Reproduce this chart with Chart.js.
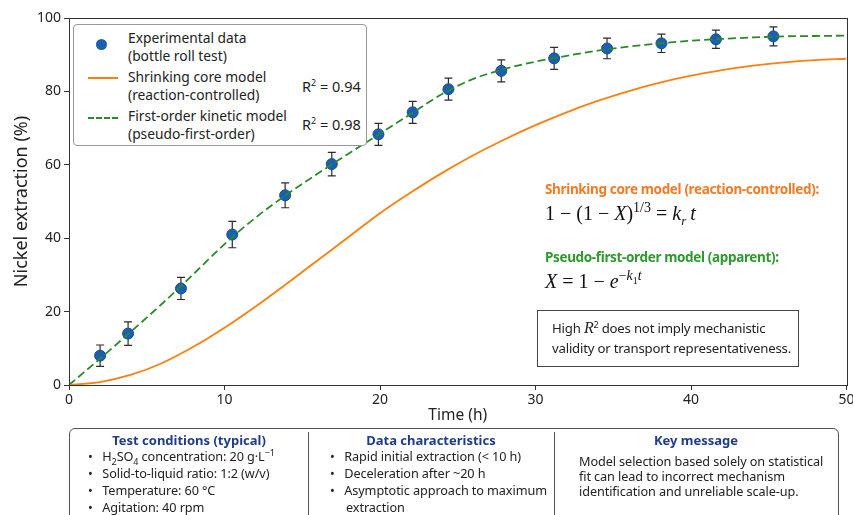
<!DOCTYPE html>
<html>
<head>
<meta charset="utf-8">
<script src="https://cdn.jsdelivr.net/npm/chart.js@4"></script>
<style>
  body { margin: 0; background: #fff; font-family: "Noto Sans", sans-serif; color: #222; }
  #wrap { position: relative; width: 853px; height: 515px; overflow: hidden; }
  canvas { position: absolute; left: 0; top: 0; }
  sub, sup { line-height: 0; }
  .abs { position: absolute; white-space: nowrap; }
  .legend { left: 73px; top: 24px; width: 292px; height: 120px; border: 1px solid #999; border-radius: 4px; background: #fff; font-size: 13.8px; line-height: 18px; }
  .eqhead { font-weight: bold; font-size: 13.5px; letter-spacing: -0.35px; }
  .eq { font-family: "Liberation Serif", serif; font-size: 20px; color: #111; }
  .note { left: 537px; top: 310px; width: 262px; height: 57px; border: 1px solid #444; font-size: 13.2px; letter-spacing: -0.2px; line-height: 20px; box-sizing: border-box; padding: 7px 0 0 14px; }
  .panel { left: 69px; top: 428px; width: 768px; height: 120px; border: 1px solid #555; border-radius: 6px; }
  .ptitle { color: #1f3c88; font-weight: bold; font-size: 13px; text-align: center; }
  .plist { font-size: 12.7px; letter-spacing: -0.1px; line-height: 17px; }
</style>
</head>
<body>
<div id="wrap">
  <canvas id="myChart" width="853" height="515"></canvas>

  <div class="abs legend">
    <div class="abs" style="left:22px;top:14px;width:11px;height:11px;border-radius:50%;background:#1a5fb0;"></div>
    <div class="abs" style="left:54px;top:4px;">Experimental data<br>(bottle roll test)</div>
    <div class="abs" style="left:14px;top:52px;width:30px;border-top:2px solid #ff7f0e;"></div>
    <div class="abs" style="left:54px;top:43px;">Shrinking core model<br>(reaction-controlled)</div>
    <div class="abs" style="left:228px;top:52px;font-size:14.5px;">R<sup style="font-size:9px">2</sup> = 0.94</div>
    <div class="abs" style="left:14px;top:92px;width:30px;border-top:2px dashed #2a8a2a;"></div>
    <div class="abs" style="left:54px;top:82px;">First-order kinetic model<br>(pseudo-first-order)</div>
    <div class="abs" style="left:228px;top:90px;font-size:14.5px;">R<sup style="font-size:9px">2</sup> = 0.98</div>
  </div>

  <div class="abs eqhead" style="left:545px;top:180px;color:#f47a24;">Shrinking core model (reaction-controlled):</div>
  <div class="abs eq" style="left:545px;top:202px;">1 − (1 − <i>X</i>)<sup style="font-size:14px">1/3</sup> = <i>k<sub style="font-size:13px">r</sub>&thinsp;t</i></div>
  <div class="abs eqhead" style="left:545px;top:248px;color:#2e9a2e;">Pseudo-first-order model (apparent):</div>
  <div class="abs eq" style="left:545px;top:270px;"><i>X</i> = 1 − <i>e</i><sup style="font-size:14px">−<i>k</i><sub style="font-size:10px">1</sub><i>t</i></sup></div>

  <div class="abs note">High <i style="font-family:'Liberation Serif',serif;font-size:16px">R</i><sup style="font-size:9px">2</sup> does not imply mechanistic<br>validity or transport representativeness.</div>

  <div class="abs panel">
    <div class="abs" style="left:238px;top:3px;height:120px;border-left:1px solid #555;"></div>
    <div class="abs" style="left:484px;top:3px;height:120px;border-left:1px solid #555;"></div>
    <div class="abs ptitle" style="left:0;top:2px;width:238px;">Test conditions (typical)</div>
    <div class="abs plist" style="left:18px;top:19px;">
      •&nbsp;&nbsp;&nbsp;H<sub style="font-size:9px">2</sub>SO<sub style="font-size:9px">4</sub> concentration: 20 g·L<sup style="font-size:9px">−1</sup><br>
      •&nbsp;&nbsp;&nbsp;Solid-to-liquid ratio: 1:2 (w/v)<br>
      •&nbsp;&nbsp;&nbsp;Temperature: 60 °C<br>
      •&nbsp;&nbsp;&nbsp;Agitation: 40 rpm
    </div>
    <div class="abs ptitle" style="left:238px;top:2px;width:246px;">Data characteristics</div>
    <div class="abs plist" style="left:260px;top:19px;">
      •&nbsp;&nbsp;&nbsp;Rapid initial extraction (&lt; 10 h)<br>
      •&nbsp;&nbsp;&nbsp;Deceleration after ~20 h<br>
      •&nbsp;&nbsp;&nbsp;Asymptotic approach to maximum<br>
      &nbsp;&nbsp;&nbsp;&nbsp;&nbsp;extraction
    </div>
    <div class="abs ptitle" style="left:484px;top:2px;width:284px;">Key message</div>
    <div class="abs plist" style="left:509px;top:25px;line-height:15px;">
      Model selection based solely on statistical<br>
      fit can lead to incorrect mechanism<br>
      identification and unreliable scale-up.
    </div>
  </div>
</div>

<script>
// bottle roll test measurements
var timeH = [2.0, 3.8, 7.2, 10.5, 13.9, 16.9, 19.9, 22.1, 24.4, 27.8, 31.2, 34.6, 38.1, 41.6, 45.3];
var extraction = [8, 14, 26.3, 41, 51.7, 60.2, 68.3, 74.3, 80.6, 85.6, 89, 91.7, 93.1, 94.2, 95];
var errorBar = [2.9, 3.2, 3, 3.6, 3.4, 3.2, 3, 3, 3, 3, 3, 2.8, 2.5, 2.5, 2.6];

// model curves
var modelTime = [0, 2, 4, 6, 8, 10, 12, 14, 16, 18, 20, 22, 24, 26, 28, 30, 32, 34, 36, 38, 40, 42, 44, 46, 48, 50];
var shrinkingCore = [0, 0.8, 2.8, 6, 10.4, 15.6, 21.4, 27.6, 34, 40.4, 46.8, 52.5, 57.8, 62.6, 66.9, 70.8, 74.3, 77.4, 80.1, 82.4, 84.3, 85.8, 87, 87.9, 88.5, 88.9];
var firstOrder = [0, 7.2, 14.6, 22.2, 30.2, 38.4, 45.6, 51.9, 57.6, 63.1, 68.5, 73.9, 79.3, 83.4, 86.1, 88.1, 89.7, 91.1, 92.2, 93.1, 93.8, 94.3, 94.7, 95, 95.1, 95.2];

var xTicks = [0, 10, 20, 30, 40, 50];
var yTicks = [0, 20, 40, 60, 80, 100];

function pairs(xs, ys) {
    return xs.map(function (x, i) { return {x: x, y: ys[i]}; });
}

// error bars, drawn just before the markers
var errorBars = {
    id: 'errorBars',
    beforeDatasetDraw: function (chart, args) {
        if (args.index !== 2) return;
        var ctx = chart.ctx, xs = chart.scales.x, ys = chart.scales.y;
        ctx.save();
        ctx.strokeStyle = '#2b2b2b';
        ctx.lineWidth = 1.2;
        for (var i = 0; i < timeH.length; i++) {
            var px = xs.getPixelForValue(timeH[i]);
            var top = ys.getPixelForValue(extraction[i] + errorBar[i]);
            var bot = ys.getPixelForValue(extraction[i] - errorBar[i]);
            ctx.beginPath();
            ctx.moveTo(px, top); ctx.lineTo(px, bot);
            ctx.moveTo(px - 4, top); ctx.lineTo(px + 4, top);
            ctx.moveTo(px - 4, bot); ctx.lineTo(px + 4, bot);
            ctx.stroke();
        }
        ctx.restore();
    }
};

// box around the plot area
var frame = {
    id: 'frame',
    afterDraw: function (chart) {
        var a = chart.chartArea, ctx = chart.ctx;
        ctx.save();
        ctx.strokeStyle = '#333';
        ctx.lineWidth = 1;
        ctx.strokeRect(Math.round(a.left) + 0.5, Math.round(a.top) + 0.5, Math.round(a.right - a.left), Math.round(a.bottom - a.top));
        ctx.restore();
    }
};

var ctx = document.getElementById('myChart').getContext('2d');
var chart = new Chart(ctx, {
    type: 'scatter',
    data: {
        datasets: [{
            label: 'Shrinking core model',
            data: pairs(modelTime, shrinkingCore),
            showLine: true,
            borderColor: '#ff7f0e',
            borderWidth: 1.8,
            pointRadius: 0,
            cubicInterpolationMode: 'monotone'
        }, {
            label: 'First-order kinetic model',
            data: pairs(modelTime, firstOrder),
            showLine: true,
            borderColor: '#2a8a2a',
            borderWidth: 1.8,
            borderDash: [8, 4],
            pointRadius: 0,
            cubicInterpolationMode: 'monotone'
        }, {
            label: 'Experimental data',
            data: pairs(timeH, extraction),
            backgroundColor: '#1a5fb0',
            borderColor: '#174f8f',
            borderWidth: 1,
            pointRadius: 5.5
        }]
    },
    options: {
        responsive: false,
        animation: false,
        layout: {padding: {left: 0, top: 18, right: 4, bottom: 90}},
        plugins: {legend: {display: false}, tooltip: {enabled: false}},
        scales: {
            x: {
                type: 'linear', min: 0, max: 50,
                afterBuildTicks: function (s) { s.ticks = xTicks.map(function (v) { return {value: v}; }); },
                afterFit: function (s) { s.height = 40; s.paddingLeft = 0; s.paddingRight = 0; },
                grid: {display: true, drawOnChartArea: false, tickLength: 5, color: '#333'},
                border: {color: '#333'},
                ticks: {color: '#222', font: {family: 'Noto Sans', size: 14}, padding: 2, maxRotation: 0},
                title: {display: true, text: 'Time (h)', color: '#222', font: {family: 'Noto Sans', size: 15.5}, padding: 0}
            },
            y: {
                min: 0, max: 100,
                afterBuildTicks: function (s) { s.ticks = yTicks.map(function (v) { return {value: v}; }); },
                afterFit: function (s) { s.width = 69; },
                grid: {display: true, drawOnChartArea: false, tickLength: 5, color: '#333'},
                border: {color: '#333'},
                ticks: {color: '#222', font: {family: 'Noto Sans', size: 14}, padding: 3},
                title: {display: true, text: 'Nickel extraction (%)', color: '#222', font: {family: 'Noto Sans', size: 18}, padding: {top: 11}}
            }
        }
    },
    plugins: [errorBars, frame]
});
</script>
</body>
</html>
